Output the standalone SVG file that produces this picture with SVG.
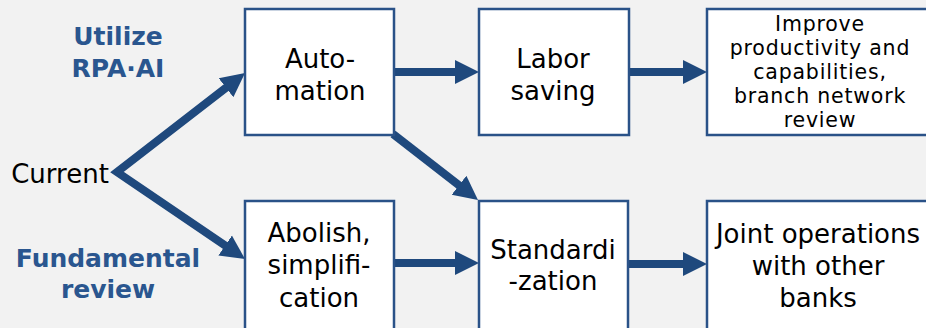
<svg xmlns="http://www.w3.org/2000/svg" width="926" height="328" viewBox="0 0 926 328">
  <style>
    .bg { fill: #F2F2F2; }
    .box { fill: #FFFFFF; stroke: #2A5288; stroke-width: 2.5; }
    .txt { font-family: "DejaVu Sans", "Liberation Sans", sans-serif; font-size: 26px; fill: #000000; text-anchor: middle; }
    .small { font-size: 20.5px; letter-spacing: 0.8px; }
    .head { font-family: "DejaVu Sans", "Liberation Sans", sans-serif; font-size: 25px; font-weight: bold; fill: #2A568F; text-anchor: middle; }
    .conn { fill: none; stroke: #1F497D; stroke-width: 8; stroke-linejoin: miter; stroke-miterlimit: 10; }
  </style>
  <defs>
    <marker id="head" markerUnits="userSpaceOnUse" markerWidth="24" markerHeight="26" refX="2" refY="13" orient="auto-start-reverse" viewBox="0 0 24 26">
      <path d="M0,1 L24,13 L0,25 z" fill="#1F497D"/>
    </marker>
  </defs>

  <rect class="bg" x="0" y="0" width="926" height="328"/>

  <!-- side headings -->
  <g id="label-rpa">
    <text class="head" x="118" y="45">Utilize</text>
    <text class="head" x="118" y="77">RPA·AI</text>
  </g>
  <g id="label-review">
    <text class="head" x="108" y="267">Fundamental</text>
    <text class="head" x="108" y="298">review</text>
  </g>

  <!-- connectors -->
  <g id="connectors">
    <path class="conn" d="M227.6,86.5 L117,172 L226.8,246.6" marker-start="url(#head)" marker-end="url(#head)"/>
    <line class="conn" x1="394" y1="72" x2="457" y2="72" marker-end="url(#head)"/>
    <line class="conn" x1="629" y1="72" x2="685" y2="72" marker-end="url(#head)"/>
    <line class="conn" x1="393" y1="134" x2="460.6" y2="186.5" marker-end="url(#head)"/>
    <line class="conn" x1="394" y1="263" x2="457" y2="263" marker-end="url(#head)"/>
    <line class="conn" x1="628" y1="264" x2="685" y2="264" marker-end="url(#head)"/>
  </g>

  <!-- nodes -->
  <g id="current">
    <text class="txt" x="60" y="183">Current</text>
  </g>
  <g id="automation">
    <rect class="box" x="245" y="9" width="149" height="126"/>
    <text class="txt" x="320" y="68">Auto-</text>
    <text class="txt" x="320" y="100">mation</text>
  </g>
  <g id="labor-saving">
    <rect class="box" x="479" y="9" width="150" height="126"/>
    <text class="txt" x="553" y="68">Labor</text>
    <text class="txt" x="553" y="100">saving</text>
  </g>
  <g id="improve">
    <rect class="box" x="707" y="9" width="230" height="126"/>
    <text class="txt small" x="820" y="31">Improve</text>
    <text class="txt small" x="820" y="55">productivity and</text>
    <text class="txt small" x="820" y="79">capabilities,</text>
    <text class="txt small" x="820" y="103">branch network</text>
    <text class="txt small" x="820" y="127">review</text>
  </g>
  <g id="abolish">
    <rect class="box" x="245" y="201" width="149" height="132"/>
    <text class="txt" x="319" y="242">Abolish,</text>
    <text class="txt" x="319" y="274">simplifi-</text>
    <text class="txt" x="319" y="307">cation</text>
  </g>
  <g id="standardization">
    <rect class="box" x="479" y="201" width="149" height="132"/>
    <text class="txt" x="553" y="259">Standardi</text>
    <text class="txt" x="553" y="290">-zation</text>
  </g>
  <g id="joint-operations">
    <rect class="box" x="707" y="201" width="230" height="132"/>
    <text class="txt" x="818" y="243">Joint operations</text>
    <text class="txt" x="818" y="275">with other</text>
    <text class="txt" x="818" y="307">banks</text>
  </g>
</svg>
